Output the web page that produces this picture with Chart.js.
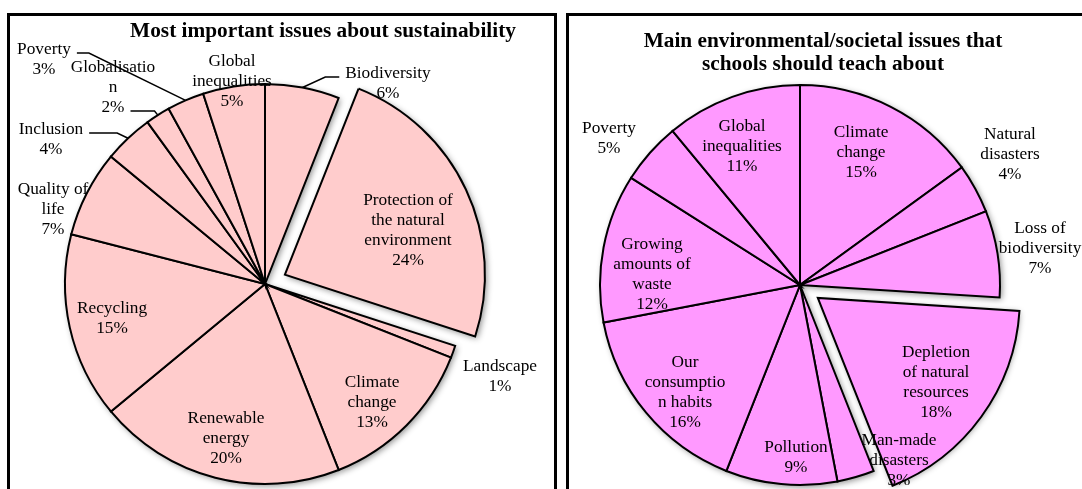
<!DOCTYPE html>
<html>
<head>
<meta charset="utf-8">
<script src="https://cdn.jsdelivr.net/npm/chart.js@4"></script>
<style>
  html, body { margin: 0; padding: 0; background: #fff; overflow: hidden; width: 1082px; height: 489px; }
  .box { position: absolute; border: 3px solid #000; box-sizing: border-box; background: #fff; }
  .ttl { position: absolute; font: bold 21.3px "Liberation Serif", serif; line-height: 23px; text-align: center; color: #000; z-index: 5; }
  canvas { position: absolute; top: 0; }
</style>
</head>
<body>
<div class="box" style="left:7px;top:13px;width:550px;height:500px;"></div>
<div class="box" style="left:566px;top:13px;width:530px;height:500px;"></div>
<div class="ttl" style="left:103px;top:19px;width:440px;">Most important issues about sustainability</div>
<div class="ttl" style="left:603px;top:29px;width:440px;">Main environmental/societal issues that<br>schools should teach about</div>
<canvas id="left" width="570" height="568" style="left:-20px;"></canvas>
<canvas id="right" width="564" height="570" style="left:518px;"></canvas>
<script>
// left pie : most important issues about sustainability
var leftCategories = [['Biodiversity'], ['Protection of', 'the natural', 'environment'], ['Landscape'],
  ['Climate', 'change'], ['Renewable', 'energy'], ['Recycling'], ['Quality of', 'life'], ['Inclusion'],
  ['Globalisatio', 'n'], ['Poverty'], ['Global', 'inequalities']];
var leftValues = [6, 24, 1, 13, 20, 15, 7, 4, 2, 3, 5];

// right pie : issues schools should teach about
var rightCategories = [['Climate', 'change'], ['Natural', 'disasters'], ['Loss of', 'biodiversity'],
  ['Depletion', 'of natural', 'resources'], ['Man-made', 'disasters'], ['Pollution'],
  ['Our', 'consumptio', 'n habits'], ['Growing', 'amounts of', 'waste'], ['Poverty'], ['Global', 'inequalities']];
var rightValues = [15, 4, 7, 18, 3, 9, 16, 12, 5, 11];

// label placement, relative to pie centre (style only)
var leftLabelPos = [[123, -201], [143, -54], [235, 92], [107, 118], [-39, 154], [-153, 34],
  [-212, -75], [-214, -145], [-152, -197], [-221, -225], [-33, -203]];
var rightLabelPos = [[61, -133], [210, -131], [240, -37], [136, 97], [99, 175], [-4, 172],
  [-115, 107], [-148, -11], [-191, -147], [-58, -139]];
// leader lines: which text line, which side, horizontal run
var leftLeaders = {0: {line: 0, side: -1, run: 14}, 7: {line: 0, side: 1, run: 28},
  8: {line: 2, side: 1, run: 24}, 9: {line: 0, side: 1, run: 12}};

var FONT = '17.3px "Liberation Serif", serif';
var LH = 20;

var pieShadow = {
  id: 'pieShadow',
  beforeDatasetsDraw: function (chart) {
    var ctx = chart.ctx;
    var arcs = chart.getDatasetMeta(0).data;
    ctx.save();
    ctx.shadowColor = 'rgba(0,0,0,0.45)';
    ctx.shadowBlur = 6;
    ctx.shadowOffsetX = 2;
    ctx.shadowOffsetY = 2;
    arcs.forEach(function (a) {
      var off = (a.options.offset || 0) / 4;
      var mid = (a.startAngle + a.endAngle) / 2;
      var x = a.x + Math.cos(mid) * off, y = a.y + Math.sin(mid) * off;
      ctx.fillStyle = a.options.backgroundColor;
      ctx.beginPath();
      ctx.moveTo(x, y);
      ctx.arc(x, y, a.outerRadius, a.startAngle, a.endAngle);
      ctx.closePath();
      ctx.fill();
    });
    ctx.restore();
  }
};

var pieLabels = {
  id: 'pieLabels',
  afterDatasetsDraw: function (chart, args, opts) {
    var ctx = chart.ctx;
    var arcs = chart.getDatasetMeta(0).data;
    var vals = chart.data.datasets[0].data;
    ctx.save();
    ctx.font = FONT;
    ctx.fillStyle = '#000';
    ctx.textAlign = 'center';
    ctx.textBaseline = 'middle';
    arcs.forEach(function (a, i) {
      var lines = chart.data.labels[i].concat([vals[i] + '%']);
      var tx = a.x + opts.pos[i][0], ty = a.y + opts.pos[i][1];
      var top = ty - (lines.length - 1) * LH / 2;
      lines.forEach(function (t, k) { ctx.fillText(t, tx, top + k * LH); });
      var ld = opts.leaders && opts.leaders[i];
      if (ld) {
        var w = ctx.measureText(lines[ld.line]).width;
        var sx = tx + ld.side * (w / 2 + 6), sy = top + ld.line * LH + 4;
        var ex = sx + ld.side * ld.run;
        var mid = (a.startAngle + a.endAngle) / 2;
        ctx.beginPath();
        ctx.moveTo(sx, sy);
        ctx.lineTo(ex, sy);
        ctx.lineTo(a.x + Math.cos(mid) * a.outerRadius, a.y + Math.sin(mid) * a.outerRadius);
        ctx.lineWidth = 1.5;
        ctx.strokeStyle = '#000';
        ctx.stroke();
      }
    });
    ctx.restore();
  }
};

function makePie(id, cats, vals, color, explodeIdx, pos, leaders) {
  var offsets = vals.map(function (v, i) { return i === explodeIdx ? 88 : 0; });
  return new Chart(document.getElementById(id), {
    type: 'pie',
    data: {
      labels: cats,
      datasets: [{
        data: vals,
        backgroundColor: color,
        borderColor: '#000',
        borderWidth: 2,
        borderJoinStyle: 'miter',
        offset: offsets
      }]
    },
    options: {
      responsive: false,
      animation: false,
      events: [],
      radius: 200,
      layout: { padding: 0 },
      plugins: {
        legend: { display: false },
        title: { display: false },
        tooltip: { enabled: false },
        pieLabels: { pos: pos, leaders: leaders }
      }
    },
    plugins: [pieShadow, pieLabels]
  });
}

makePie('left', leftCategories, leftValues, '#FFCCCC', 1, leftLabelPos, leftLeaders);
makePie('right', rightCategories, rightValues, '#FF99FF', 3, rightLabelPos, null);
</script>
</body>
</html>
